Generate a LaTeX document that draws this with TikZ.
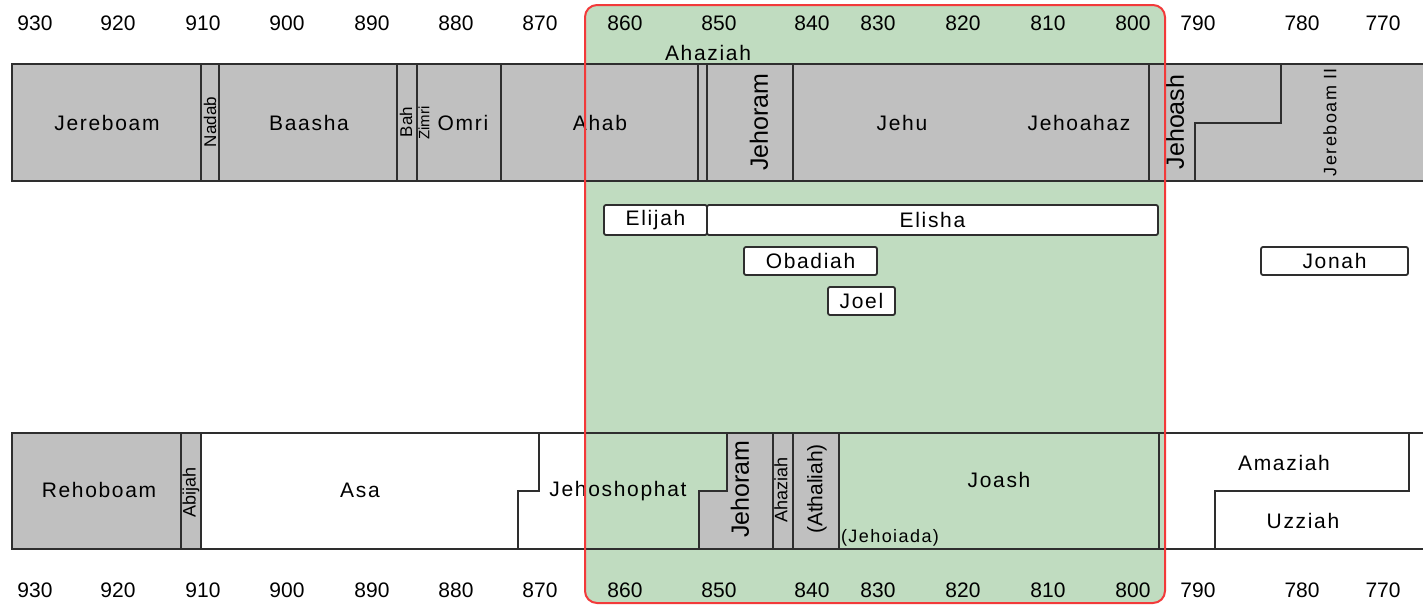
\documentclass[tikz,border=0pt]{standalone}
\usepackage{fontspec}
\setmainfont{Liberation Sans}
\newfontfamily\spaced[LetterSpace=8]{Liberation Sans}
\usepackage{xcolor}
\definecolor{kinggray}{HTML}{C0C0C0}
\definecolor{focusgreen}{HTML}{C0DCC0}
\definecolor{focusred}{HTML}{F23A3A}
\definecolor{linegray}{HTML}{2E2E2E}

\begin{document}
\begin{tikzpicture}[x=0.5pt, y=-0.5pt,
  bandline/.style={draw=linegray, line width=0.9pt},
  kinglbl/.style={inner sep=0pt, anchor=base, font=\spaced\fontsize{10.5}{12}\selectfont},
  upname/.style={inner sep=0pt, rotate=90, font=\fontsize{12.5}{14}\selectfont},
  smallup/.style={inner sep=0pt, rotate=90, font=\fontsize{8.5}{10}\selectfont},
  year/.style={inner sep=0pt, anchor=base, font=\fontsize{10.5}{12}\selectfont},
  prophet/.style={draw=linegray, line width=0.9pt, fill=white, rounded corners=1pt,
    inner sep=0pt, font=\spaced\fontsize{10.5}{12}\selectfont}]

      \useasboundingbox (0,0) rectangle (1423,605);

      % highlighted period
      \fill [focusgreen, rounded corners=6pt] (585,5) rectangle (1165,603);

      % years, top
      \node [year] (t930) at (35,30) {930};
      \node [year] (t920) at (118,30) {920};
      \node [year] (t910) at (203,30) {910};
      \node [year] (t900) at (287,30) {900};
      \node [year] (t890) at (372,30) {890};
      \node [year] (t880) at (456,30) {880};
      \node [year] (t870) at (540,30) {870};
      \node [year] (t860) at (625,30) {860};
      \node [year] (t850) at (719,30) {850};
      \node [year] (t840) at (812,30) {840};
      \node [year] (t830) at (878,30) {830};
      \node [year] (t820) at (963,30) {820};
      \node [year] (t810) at (1048,30) {810};
      \node [year] (t800) at (1133,30) {800};
      \node [year] (t790) at (1198,30) {790};
      \node [year] (t780) at (1302,30) {780};
      \node [year] (t770) at (1383,30) {770};

      % years, bottom
      \node [year] (b930) at (35,597) {930};
      \node [year] (b920) at (118,597) {920};
      \node [year] (b910) at (203,597) {910};
      \node [year] (b900) at (287,597) {900};
      \node [year] (b890) at (372,597) {890};
      \node [year] (b880) at (456,597) {880};
      \node [year] (b870) at (540,597) {870};
      \node [year] (b860) at (625,597) {860};
      \node [year] (b850) at (719,597) {850};
      \node [year] (b840) at (812,597) {840};
      \node [year] (b830) at (878,597) {830};
      \node [year] (b820) at (963,597) {820};
      \node [year] (b810) at (1048,597) {810};
      \node [year] (b800) at (1133,597) {800};
      \node [year] (b790) at (1198,597) {790};
      \node [year] (b780) at (1302,597) {780};
      \node [year] (b770) at (1383,597) {770};

      % israel band
      \fill [kinggray] (12,64) rectangle (1423,181);
      \draw [bandline] (1423,64) -- (12,64) -- (12,181) -- (1423,181);
      \draw [bandline] (201,64) -- (201,181);
      \draw [bandline] (219,64) -- (219,181);
      \draw [bandline] (397,64) -- (397,181);
      \draw [bandline] (417,64) -- (417,181);
      \draw [bandline] (501,64) -- (501,181);
      \draw [bandline] (698,64) -- (698,181);
      \draw [bandline] (707,64) -- (707,181);
      \draw [bandline] (793,64) -- (793,181);
      \draw [bandline] (1149,64) -- (1149,181);
      \draw [bandline] (1195,181) -- (1195,123) -- (1281,123) -- (1281,64);

      \node [kinglbl] (jereboam) at (107,130) {Jereboam};
      \node [smallup] (nadab) at (210,122) {Nadab};
      \node [kinglbl] (baasha) at (309,130) {Baasha};
      \node [smallup] (bah) at (406,122) {Bah};
      \node [smallup, font=\fontsize{7.5}{9}\selectfont] (zimri) at (424,123) {Zimri};
      \node [kinglbl] (omri) at (463,130) {Omri};
      \node [kinglbl] (ahab) at (600,130) {Ahab};
      \node [kinglbl] (ahaziahN) at (708,60) {Ahaziah};
      \node [upname] (jehoramN) at (759,122) {Jehoram};
      \node [kinglbl] (jehu) at (902,130) {Jehu};
      \node [kinglbl] (jehoahaz) at (1079,130) {Jehoahaz};
      \node [upname] (jehoash) at (1175,122) {Jehoash};
      \node [smallup, font=\spaced\fontsize{9}{10}\selectfont] (jereboam2) at (1330,122) {Jereboam II};

      % prophets
      \node [prophet, minimum width=51.5pt, minimum height=15pt] (elijah) at (655.5,220) {Elijah};
      \node [prophet, minimum width=225.5pt, minimum height=15pt] (elisha) at (932.5,220) {Elisha};
      \node [prophet, minimum width=66.5pt, minimum height=14pt] (obadiah) at (810.5,261) {Obadiah};
      \node [prophet, minimum width=33.5pt, minimum height=14pt] (joel) at (861.5,301) {Joel};
      \node [prophet, minimum width=73.5pt, minimum height=14pt] (jonah) at (1334.5,261) {Jonah};

      % judah band
      \fill [kinggray] (12,433) rectangle (201,549);
      \fill [kinggray] (727,433) -- (773,433) -- (773,549) -- (699,549) -- (699,491) -- (727,491) -- cycle;
      \fill [kinggray] (773,433) rectangle (839,549);
      \draw [bandline] (1423,433) -- (12,433) -- (12,549) -- (1423,549);
      \draw [bandline] (181,433) -- (181,549);
      \draw [bandline] (201,433) -- (201,549);
      \draw [bandline] (539,433) -- (539,491) -- (518,491) -- (518,549);
      \draw [bandline] (727,433) -- (727,491) -- (699,491) -- (699,549);
      \draw [bandline] (773,433) -- (773,549);
      \draw [bandline] (793,433) -- (793,549);
      \draw [bandline] (839,433) -- (839,549);
      \draw [bandline] (1159,433) -- (1159,549);
      \draw [bandline] (1215,549) -- (1215,491) -- (1409,491) -- (1409,433);

      \node [kinglbl] (rehoboam) at (99,497) {Rehoboam};
      \node [smallup, font=\fontsize{9}{10}\selectfont] (abijah) at (191,492) {Abijah};
      \node [kinglbl] (asa) at (360,497) {Asa};
      \node [kinglbl] (jehoshophat) at (618,496) {Jehoshophat};
      \node [upname] (jehoramJ) at (740,489) {Jehoram};
      \node [smallup, font=\fontsize{9}{10}\selectfont] (ahaziahJ) at (781,490) {Ahaziah};
      \node [smallup, font=\fontsize{10.5}{12}\selectfont] (athaliah) at (817,489) {(Athaliah)};
      \node [kinglbl] (joash) at (999,487) {Joash};
      \node [kinglbl, font=\spaced\fontsize{9}{10}\selectfont] (jehoiada) at (890,542) {(Jehoiada)};
      \node [kinglbl] (amaziah) at (1284,470) {Amaziah};
      \node [kinglbl] (uzziah) at (1303,528) {Uzziah};

      % border of highlighted period
      \draw [focusred, line width=1pt, rounded corners=6pt] (585,5) rectangle (1165,603);

\end{tikzpicture}
\end{document}
